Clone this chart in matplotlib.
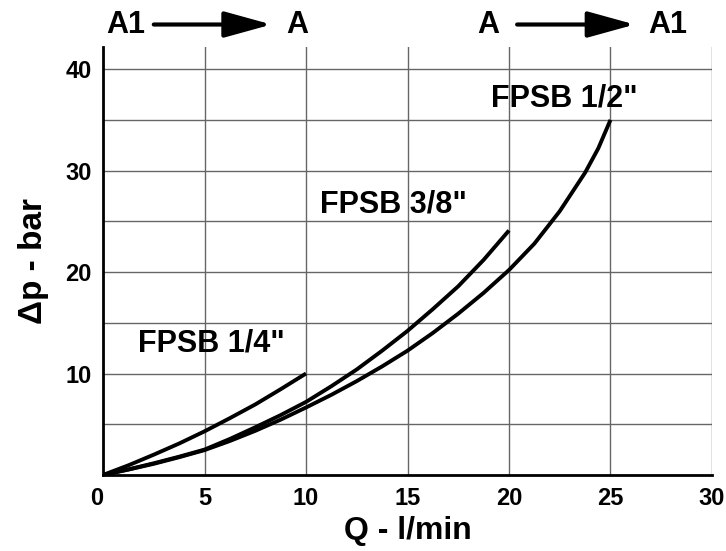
import matplotlib
matplotlib.use("Agg")
import matplotlib.pyplot as plt
from matplotlib import font_manager

# fonts: narrow bold like the datasheet, fall back if missing
names = {f.name for f in font_manager.fontManager.ttflist}
fam = ['Liberation Sans Narrow'] if 'Liberation Sans Narrow' in names else ['Liberation Sans']
plt.rcParams['font.family'] = fam + ['DejaVu Sans']
plt.rcParams['font.weight'] = 'bold'

# curves (Q in l/min, dp in bar)
q_14 = [0, 1.25, 2.5, 3.75, 5, 6.25, 7.5, 8.75, 10]
dp_14 = [0, 0.95, 2.0, 3.1, 4.3, 5.6, 6.95, 8.45, 10.0]

q_38 = [0, 1.25, 2.5, 3.75, 5, 6.25, 7.5, 8.75, 10, 11.25, 12.5, 13.75, 15,
        16.25, 17.5, 18.75, 20]
dp_38 = [0, 0.55, 1.15, 1.8, 2.5, 3.55, 4.7, 5.9, 7.2, 8.75, 10.4, 12.25, 14.2,
         16.35, 18.6, 21.2, 24.1]

q_12 = [0, 1.25, 2.5, 3.75, 5, 6.25, 7.5, 8.75, 10, 11.25, 12.5, 13.75, 15,
        16.25, 17.5, 18.75, 20, 21.25, 22.5, 23.75, 24.4, 25]
dp_12 = [0, 0.53, 1.1, 1.75, 2.45, 3.35, 4.35, 5.45, 6.65, 7.9, 9.25, 10.7, 12.25,
         14.0, 15.9, 17.95, 20.2, 22.8, 26.0, 29.8, 32.2, 35.0]

labels = ['FPSB 1/4"', 'FPSB 3/8"', 'FPSB 1/2"']
label_pos = [(1.7, 12.2), (10.7, 25.9), (19.1, 36.3)]

xticks = [0, 5, 10, 15, 20, 25, 30]
yticks = [10, 20, 30, 40]

fig = plt.figure(figsize=(7.26, 5.51), dpi=100)
ax = fig.add_axes([0.1419, 0.138, 0.8388, 0.777])

for q, dp in [(q_14, dp_14), (q_38, dp_38), (q_12, dp_12)]:
    ax.plot(q, dp, color='black', lw=2.8, solid_capstyle='butt',
            solid_joinstyle='round', zorder=3)

for t, (x, y) in zip(labels, label_pos):
    ax.text(x, y, t, fontsize=22, fontweight='bold', ha='left', va='baseline', zorder=4)

ax.set_xlim(0, 30)
ax.set_ylim(0, 42.2)
ax.set_xticks(xticks)
ax.set_yticks(yticks)
ax.set_yticks(range(5, 41, 5), minor=True)
ax.grid(True, which='both', color='#666666', lw=1.0, zorder=0)
ax.tick_params(which='both', length=0, labelsize=17, pad=8)
ax.tick_params(axis='x', pad=9)
for lab in ax.get_xticklabels() + ax.get_yticklabels():
    lab.set_fontweight('bold')
ax.get_xticklabels()[0].set_horizontalalignment('right')

ax.spines['top'].set_visible(False)
ax.spines['right'].set_visible(False)
ax.spines['left'].set_linewidth(2)
ax.spines['bottom'].set_linewidth(2)

ax.set_xlabel('Q - l/min', fontsize=23, fontweight='bold', labelpad=4)
ax.set_ylabel('Δp - bar', fontsize=24, fontweight='bold', labelpad=12)

# flow direction markers above the plot
def flow(x0, x1, x2, x3, y, a, b):
    ax.text(x0, y, a, fontsize=22, fontweight='bold', ha='center', va='center', clip_on=False)
    ax.text(x3, y, b, fontsize=22, fontweight='bold', ha='center', va='center', clip_on=False)
    ax.annotate('', xy=(x2, y), xytext=(x1, y), annotation_clip=False,
                arrowprops=dict(arrowstyle='-|>,head_length=2.9,head_width=0.8',
                                color='black', lw=3, shrinkA=0, shrinkB=0))

flow(1.13, 2.5, 8.3, 9.56, 44.4, 'A1', 'A')
flow(18.97, 20.4, 26.2, 27.8, 44.4, 'A', 'A1')

fig.savefig('out.png', dpi=100)
